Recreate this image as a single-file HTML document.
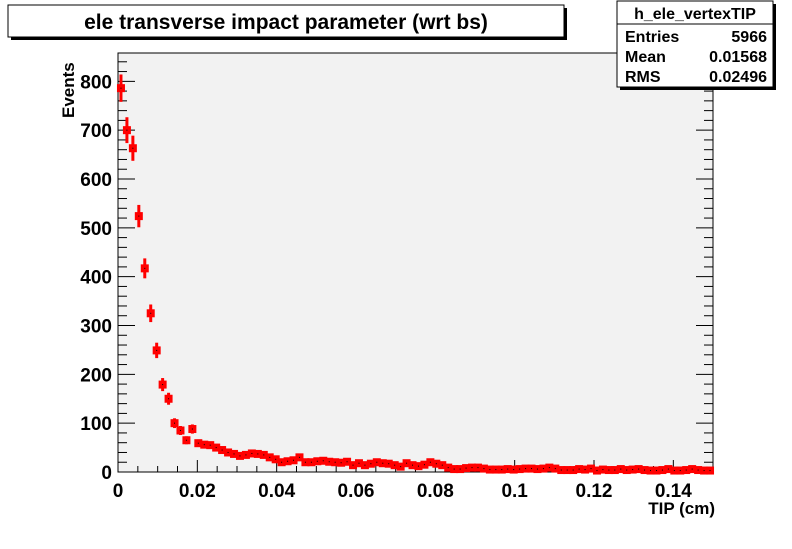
<!DOCTYPE html>
<html><head><meta charset="utf-8"><style>
body{margin:0;background:#fff;}
svg text{font-family:"Liberation Sans",sans-serif;font-weight:bold;}
</style></head><body>
<svg width="792" height="544" viewBox="0 0 792 544" xmlns="http://www.w3.org/2000/svg">
<rect x="0" y="0" width="792" height="544" fill="#fff"/>
<rect x="118" y="53" width="595" height="419" fill="#f2f2f2" stroke="#000" stroke-width="1"/>
<g id="ticks"></g>
<g id="marks"></g>
<g id="labels"></g>
<!-- title box -->
<rect x="11" y="8" width="556" height="32" fill="#000" />
<rect x="8" y="5" width="556" height="32" fill="#fff" stroke="#000"/>
<text x="286" y="29" font-size="21" text-anchor="middle">ele transverse impact parameter (wrt bs)</text>
<!-- stats box -->
<rect x="620" y="4" width="156" height="86" fill="#000"/>
<rect x="617" y="1" width="156" height="86" fill="#fff" stroke="#000"/>
<line x1="617" y1="24" x2="773" y2="24" stroke="#000"/>
<text x="695" y="19" font-size="16" text-anchor="middle">h_ele_vertexTIP</text>
<text x="625" y="42" font-size="16">Entries</text>
<text x="767" y="42" font-size="16" text-anchor="end">5966</text>
<text x="625" y="62" font-size="16">Mean</text>
<text x="767" y="62" font-size="16" text-anchor="end">0.01568</text>
<text x="625" y="82" font-size="16">RMS</text>
<text x="767" y="82" font-size="16" text-anchor="end">0.02496</text>
<text x="715" y="514" font-size="17" text-anchor="end">TIP (cm)</text>
<text transform="translate(74,118) rotate(-90)" font-size="17" text-anchor="start">Events</text>
</svg>
<script>
const counts = [786,700,663,524,417,325,249,179,150,100,
85,65,88,59,56,55,50,45,40,37,
33,35,38,37,35,30,26,20,22,24,
30,20,20,22,23,21,20,19,21,14,
18,14,17,20,18,17,14,11,18,14,
12,15,20,17,14,9,6,6,8,9,
9,7,5,5,5,6,5,6,7,7,
6,7,9,7,4,4,4,6,5,7,
3,5,4,4,6,4,5,6,4,3,
3,4,6,3,3,4,6,4,3,3];
const xTicks = [0,0.02,0.04,0.06,0.08,0.1,0.12,0.14];
const xTickLabels = ["0","0.02","0.04","0.06","0.08","0.1","0.12","0.14"];
const yTicks = [0,100,200,300,400,500,600,700,800];
const xMin=0, xMax=0.15, yMin=0, yMax=858;
const L=118,R=713,T=53,B=472;
const X=v=>L+(v-xMin)/(xMax-xMin)*(R-L);
const Y=v=>B-(v-yMin)/(yMax-yMin)*(B-T);
const NS='http://www.w3.org/2000/svg';
function mk(tag,attrs,parent){const e=document.createElementNS(NS,tag);for(const k in attrs)e.setAttribute(k,attrs[k]);parent.appendChild(e);return e;}
const tg=document.getElementById('ticks'), lg=document.getElementById('labels'), mg=document.getElementById('marks');
// x ticks
for(let v=0;v<=0.15+1e-9;v+=0.005){const major=Math.abs(v/0.02-Math.round(v/0.02))<1e-6;const len=major?12:6;
 const l=mk('line',{x1:X(v),x2:X(v),y1:B,y2:B-len,stroke:'#000'},tg);
 
 }
xTicks.forEach((v,i)=>{const t=mk('text',{x:X(v),y:B+25,'font-size':19,'text-anchor':'middle'},lg);t.textContent=xTickLabels[i];
 
 });
// y ticks
for(let v=0;v<=850;v+=20){const major=v%100===0;const len=major?17:9;
 const a=mk('line',{x1:L,x2:L+len,y1:Y(v),y2:Y(v),stroke:'#000'},tg);
 
 
 const b=mk('line',{x1:R,x2:R-len,y1:Y(v),y2:Y(v),stroke:'#000'},tg);
 
 }
yTicks.forEach(v=>{const t=mk('text',{x:L-6,y:Y(v)+7,'font-size':19,'text-anchor':'end'},lg);t.textContent=String(v);
 
 });
// data
const bw=(xMax-xMin)/counts.length;
counts.forEach((c,i)=>{const cx=X(xMin+(i+0.5)*bw), cy=Y(c), e=Math.sqrt(c);
 const g=mk('g',{},mg);
 
 
 mk('line',{x1:cx,x2:cx,y1:Y(c+e),y2:Y(c-e),stroke:'#f00','stroke-width':3},g);
 mk('line',{x1:X(xMin+i*bw),x2:X(xMin+(i+1)*bw),y1:cy,y2:cy,stroke:'#f00','stroke-width':3},g);
 mk('rect',{x:cx-4,y:cy-4,width:8,height:8,fill:'#f00'},g);
 mk('rect',{x:cx-0.5,y:cy-0.5,width:1,height:1,fill:'#000'},g);
});
</script>
</body></html>
